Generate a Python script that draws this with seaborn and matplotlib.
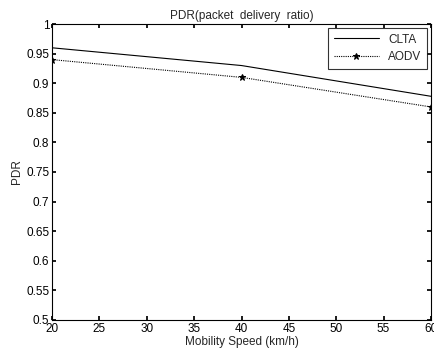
import matplotlib
matplotlib.use("Agg")
import matplotlib.pyplot as plt
import seaborn as sns
import pandas as pd

# data
speed = [20, 40, 60]
clta = [0.960, 0.930, 0.878]
aodv = [0.940, 0.910, 0.860]

sns.set_theme(style="white")
plt.rcParams['font.family'] = ['Liberation Sans', 'DejaVu Sans']

df = pd.DataFrame({'speed': speed * 2,
                   'pdr': clta + aodv,
                   'protocol': ['CLTA'] * 3 + ['AODV'] * 3})

fig = plt.figure(figsize=(4.34, 3.55), dpi=100)
ax = fig.add_axes([0.12, 0.099, 0.873, 0.833])

sns.lineplot(data=df[df.protocol == 'CLTA'], x='speed', y='pdr', ax=ax,
             color='black', linewidth=0.8, label='CLTA')
sns.lineplot(data=df[df.protocol == 'AODV'], x='speed', y='pdr', ax=ax,
             color='black', linewidth=0.8, linestyle=(0, (1, 1)), marker='*',
             markersize=5, markeredgecolor='black', label='AODV')

ax.set_xlim(20, 60)
ax.set_ylim(0.5, 1)
ax.set_xticks(range(20, 61, 5))
ax.set_yticks([0.5 + 0.05 * i for i in range(11)])
ax.set_yticklabels(['0.5', '0.55', '0.6', '0.65', '0.7', '0.75', '0.8',
                    '0.85', '0.9', '0.95', '1'])
ax.tick_params(direction='in', length=3, labelsize=8.5, top=True, right=True,
               bottom=True, left=True, pad=2, colors='black')
for s in ax.spines.values():
    s.set_color('black')
    s.set_linewidth(0.8)

ax.set_title('PDR(packet  delivery  ratio)', fontsize=8.5, pad=4)
ax.set_xlabel('Mobility Speed (km/h)', fontsize=8.5, labelpad=1)
ax.set_ylabel('PDR', fontsize=8.5, labelpad=2)

leg = ax.legend(loc='upper right', fontsize=8.5, frameon=True, fancybox=False,
                edgecolor='black', handlelength=3.8, borderpad=0.5,
                borderaxespad=0.3)
leg.get_frame().set_linewidth(0.8)

fig.savefig('out.png', dpi=100)
